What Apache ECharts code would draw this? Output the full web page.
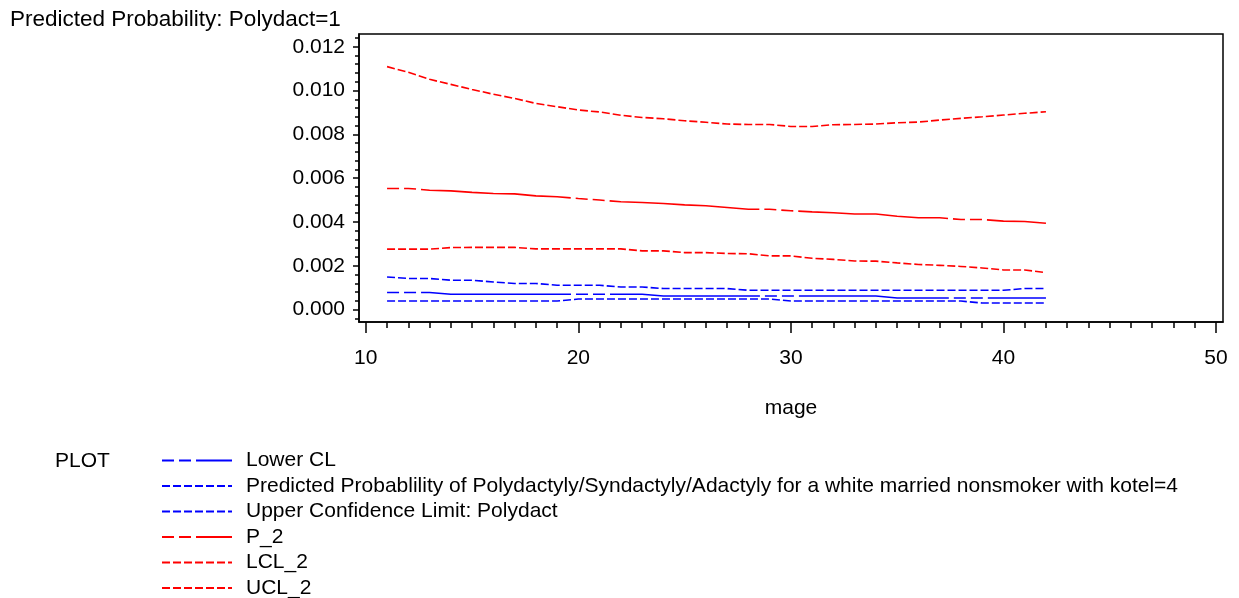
<!DOCTYPE html>
<html>
<head>
<meta charset="utf-8">
<script src="https://cdn.jsdelivr.net/npm/echarts@6/dist/echarts.min.js"></script>
<style>
html,body{margin:0;padding:0;background:#fff;}
#chart{width:1239px;height:598px;}
</style>
</head>
<body>
<div id="chart"></div>
<script>
// ---- data ----
var mage = [11,12,13,14,15,16,17,18,19,20,21,22,23,24,25,26,27,28,29,30,31,32,33,34,35,36,37,38,39,40,41,42];
var lowerCL = [0.00078,0.00078,0.00078,0.00070,0.00070,0.00070,0.00070,0.00070,0.00070,0.00070,0.00070,0.00070,0.00070,0.00062,0.00062,0.00062,0.00062,0.00062,0.00062,0.00062,0.00062,0.00062,0.00062,0.00062,0.00053,0.00053,0.00053,0.00053,0.00053,0.00053,0.00053,0.00053];
var predProb = [0.00039,0.00039,0.00039,0.00039,0.00039,0.00039,0.00039,0.00039,0.00039,0.00048,0.00048,0.00048,0.00048,0.00048,0.00048,0.00048,0.00048,0.00048,0.00048,0.00039,0.00039,0.00039,0.00039,0.00039,0.00039,0.00039,0.00039,0.00039,0.00030,0.00030,0.00030,0.00030];
var upperCL = [0.00149,0.00142,0.00142,0.00134,0.00134,0.00126,0.00119,0.00119,0.00111,0.00111,0.00111,0.00103,0.00103,0.00096,0.00096,0.00096,0.00096,0.00088,0.00088,0.00088,0.00088,0.00088,0.00088,0.00088,0.00088,0.00088,0.00088,0.00088,0.00088,0.00088,0.00096,0.00096];
var p2 = [0.00553,0.00553,0.00545,0.00542,0.00535,0.00530,0.00528,0.00519,0.00515,0.00507,0.00500,0.00492,0.00489,0.00484,0.00478,0.00474,0.00466,0.00458,0.00458,0.00451,0.00446,0.00442,0.00436,0.00436,0.00426,0.00419,0.00419,0.00411,0.00411,0.00404,0.00402,0.00394];
var lcl2 = [0.00276,0.00276,0.00276,0.00283,0.00284,0.00284,0.00284,0.00277,0.00277,0.00277,0.00277,0.00277,0.00268,0.00268,0.00260,0.00260,0.00256,0.00255,0.00245,0.00245,0.00234,0.00229,0.00222,0.00221,0.00213,0.00206,0.00202,0.00197,0.00190,0.00181,0.00181,0.00169];
var ucl2 = [0.01109,0.01083,0.01051,0.01028,0.01005,0.00983,0.00964,0.00941,0.00926,0.00911,0.00902,0.00887,0.00877,0.00871,0.00862,0.00855,0.00847,0.00845,0.00845,0.00836,0.00836,0.00844,0.00845,0.00847,0.00853,0.00856,0.00865,0.00873,0.00880,0.00888,0.00896,0.00903];

var xMajorTicks = [10,20,30,40,50];
var xMinorTicks = [11,12,13,14,15,16,17,18,19,21,22,23,24,25,26,27,28,29,31,32,33,34,35,36,37,38,39,41,42,43,44,45,46,47,48,49];
var yMajorTicks = [0,0.002,0.004,0.006,0.008,0.010,0.012];
var yMinorTicks = [-0.0004,0.0004,0.0008,0.0012,0.0016,0.0024,0.0028,0.0032,0.0036,0.0044,0.0048,0.0052,0.0056,0.0064,0.0068,0.0072,0.0076,0.0084,0.0088,0.0092,0.0096,0.0104,0.0108,0.0112,0.0116,0.0124];

var seriesNames = ['Lower CL','Predicted Probablility of Polydactyly/Syndactyly/Adactyly for a white married nonsmoker with kotel=4','Upper Confidence Limit: Polydact','P_2','LCL_2','UCL_2'];
var seriesValues = [lowerCL, predProb, upperCL, p2, lcl2, ucl2];

// ---- styling ----
var FONT = 'Liberation Sans, Arial, sans-serif';
var FS = 21;
var BLUE = '#0000ff', RED = '#ff0000';
var seriesColors = [BLUE, BLUE, BLUE, RED, RED, RED];
var longDash = [12,5,12,5,150,5];
var shortDash = [8,3];
var seriesDash = [longDash, shortDash, shortDash, longDash, shortDash, shortDash];

var X_MIN = 9.68, X_MAX = 50.33, Y_MIN = -0.000567, Y_MAX = 0.01258;

function pairs(vals){ return mage.map(function(x,i){ return [x, vals[i]]; }); }

var series = seriesNames.map(function(n,i){
  return {
    name: n, type: 'line', data: pairs(seriesValues[i]),
    xAxisIndex: 0, yAxisIndex: 0,
    symbol: 'none', smooth: false, animation: false,
    lineStyle: {color: seriesColors[i], width: 1.6, type: seriesDash[i]},
    itemStyle: {color: seriesColors[i]}
  };
});

var chart = echarts.init(document.getElementById('chart'), null, {renderer: 'canvas'});
chart.setOption({
  animation: false,
  backgroundColor: '#fff',
  textStyle: {fontFamily: FONT, color: '#000'},
  title: [
    {text: 'Predicted Probability: Polydact=1', left: 10, top: 8, padding: 0,
     textStyle: {fontSize: 22.5, fontWeight: 'normal', color: '#000', fontFamily: FONT}},
    {text: 'PLOT', left: 55, top: 451, padding: 0,
     textStyle: {fontSize: FS, fontWeight: 'normal', color: '#000', fontFamily: FONT}}
  ],
  legend: {
    orient: 'vertical', left: 161, top: 450, height: 200, padding: 0,
    itemWidth: 70, itemHeight: 12, itemGap: 4.5,
    data: seriesNames,
    itemStyle: {opacity: 0},
    textStyle: {fontSize: FS, color: '#000', fontFamily: FONT, padding: [0,0,0,9]},
    selectedMode: false
  },
  grid: {left: 359, right: 16, top: 34, bottom: 276, show: true, borderColor: '#000', borderWidth: 1.5, outerBoundsMode: 'none', containLabel: false},
  xAxis: [
    {type: 'value', min: X_MIN, max: X_MAX, position: 'bottom',
     name: 'mage', nameLocation: 'middle', nameGap: 76,
     nameTextStyle: {fontSize: FS, color: '#000', fontFamily: FONT},
     axisLine: {show: true, onZero: false, lineStyle: {color: '#000', width: 1.5}},
     axisTick: {show: true, length: 11, lineStyle: {color: '#000', width: 1.5}, customValues: xMajorTicks},
     axisLabel: {show: true, fontSize: FS, color: '#000', fontFamily: FONT, margin: 26, customValues: xMajorTicks},
     splitLine: {show: false}},
    {type: 'value', min: X_MIN, max: X_MAX, position: 'bottom',
     axisLine: {show: false, onZero: false},
     axisTick: {show: true, length: 6, lineStyle: {color: '#000', width: 1.5}, customValues: xMinorTicks},
     axisLabel: {show: false}, splitLine: {show: false}}
  ],
  yAxis: [
    {type: 'value', min: Y_MIN, max: Y_MAX, position: 'left',
     axisLine: {show: true, onZero: false, lineStyle: {color: '#000', width: 1.5}},
     axisTick: {show: true, length: 6, lineStyle: {color: '#000', width: 1.5}, customValues: yMajorTicks},
     axisLabel: {show: true, fontSize: FS, color: '#000', fontFamily: FONT, margin: 14, customValues: yMajorTicks,
       formatter: function(v){ return Number(v).toFixed(3); }},
     splitLine: {show: false}},
    {type: 'value', min: Y_MIN, max: Y_MAX, position: 'left',
     axisLine: {show: false, onZero: false},
     axisTick: {show: true, length: 4, lineStyle: {color: '#000', width: 1.5}, customValues: yMinorTicks},
     axisLabel: {show: false}, splitLine: {show: false}}
  ],
  series: series
});
</script>
</body>
</html>
